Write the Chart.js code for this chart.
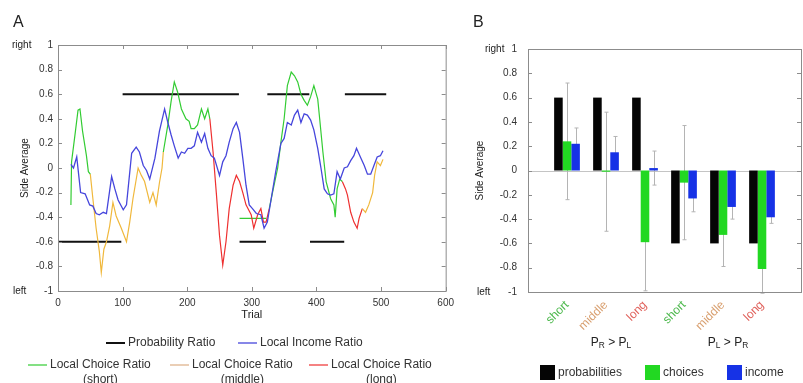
<!DOCTYPE html>
<html>
<head>
<meta charset="utf-8">
<script src="https://cdn.jsdelivr.net/npm/chart.js@4"></script>
<style>
  body { margin: 0; background: #fff; width: 803px; height: 383px; overflow: hidden; position: relative; }
  #wrapA { position: absolute; left: 0; top: 0; width: 460px; height: 383px; }
  #wrapB { position: absolute; left: 460px; top: 0; width: 343px; height: 383px; }
</style>
</head>
<body>
<div id="wrapA"><canvas id="chartA"></canvas></div>
<div id="wrapB"><canvas id="chartB"></canvas></div>
<script>
// --- panel A : trial-by-trial ratios ---
const probStart = [0, 100, 281, 324, 390, 444];
const probEnd   = [98, 280, 322, 389, 443, 508];
const probLevel = [-0.6, 0.6, -0.6, 0.6, -0.6, 0.6];

const incomeTrial = [20, 24, 29, 35, 42, 49, 54, 59, 64, 70, 75, 83, 88, 93, 101, 106, 114, 121, 126, 132,
  137, 142, 150, 157, 165, 170, 175, 180, 186, 191, 196, 201, 206, 211, 216, 222, 227, 232, 237, 242,
  250, 255, 260, 265, 271, 276, 281, 286, 291, 296, 301, 307, 314, 319, 324, 330, 337, 345, 350, 355,
  361, 366, 371, 376, 381, 386, 391, 396, 402, 407, 412, 417, 422, 427, 432, 437, 443, 448, 453, 458,
  462, 468, 474, 479, 484, 489, 494, 499, 503];
const incomeRatio = [0.03, 0.0, 0.09, -0.2, -0.21, -0.3, -0.31, -0.37, -0.38, -0.36, -0.37, -0.07, -0.17, -0.26, -0.34, -0.3, 0.12, 0.17, 0.13, 0.02,
  -0.02, -0.09, 0.08, 0.3, 0.48, 0.37, 0.27, 0.18, 0.08, 0.13, 0.12, 0.16, 0.16, 0.18, 0.29, 0.21, 0.28, 0.16, 0.1, 0.08,
  -0.06, 0.05, 0.1, 0.21, 0.32, 0.37, 0.29, 0.08, -0.14, -0.3, -0.33, -0.37, -0.38, -0.49, -0.44, -0.25, -0.03, 0.2, 0.24, 0.37,
  0.35, 0.43, 0.47, 0.37, 0.44, 0.43, 0.39, 0.31, 0.16, 0.0, -0.17, -0.21, -0.22, -0.21, -0.03, -0.09, 0.0, 0.01, 0.06, 0.1,
  0.16, 0.09, 0.02, -0.05, -0.05, 0.02, 0.09, 0.1, 0.14];

const choiceTrial = [20, 21, 27, 31, 34, 38, 44, 47,
  50, 54, 59, 64, 67, 71, 75, 80, 85, 90, 98, 106, 111, 116, 124, 129, 134, 142, 147, 152, 157, 161,
  163, 170, 175, 180, 185, 191, 198, 203, 206, 211, 216, 222, 227, 232,
  235, 240, 245, 250, 255, 260, 265, 271, 276, 281, 286, 291, 299, 303, 309, 314, 318, 322,
  327, 332, 340, 345, 350, 355, 361, 366, 371, 376, 381, 386, 391, 396, 402, 405, 410, 415, 422, 427, 429, 432, 436,
  440, 445, 448, 453, 458, 463, 466,
  471, 476, 481, 487, 490, 494, 499, 503];
const choiceRatio = [-0.3, 0.05, 0.3, 0.47, 0.48, 0.3, 0.1, -0.03,
  -0.05, -0.25, -0.49, -0.68, -0.85, -0.66, -0.6, -0.47, -0.28, -0.39, -0.49, -0.6, -0.44, -0.25, 0.0, -0.06, -0.11, -0.28, -0.2, -0.3, -0.12, 0.0,
  0.13, 0.35, 0.54, 0.7, 0.62, 0.48, 0.4, 0.38, 0.32, 0.32, 0.35, 0.48, 0.4, 0.48,
  0.4, 0.13, -0.2, -0.55, -0.79, -0.6, -0.33, -0.14, -0.06, -0.11, -0.2, -0.3, -0.38, -0.49, -0.38, -0.33, -0.44, -0.44,
  -0.33, -0.2, 0.0, 0.21, 0.4, 0.67, 0.78, 0.75, 0.7, 0.6, 0.55, 0.51, 0.58, 0.67, 0.56, 0.4, 0.13, -0.11, -0.25, -0.3, -0.4, -0.17, -0.09,
  -0.11, -0.17, -0.22, -0.36, -0.44, -0.49, -0.41,
  -0.33, -0.36, -0.3, -0.2, -0.06, 0.05, 0.02, 0.07];
// block type in force from each switch trial onwards
const blockSwitch = [20, 49, 162, 234, 325, 438, 469];
const blockKind   = ['short', 'middle', 'short', 'long', 'short', 'long', 'middle'];

const flatTrial = [281, 322];
const flatRatio = [-0.41, -0.41];

// --- panel B : block averages ---
const barGroups  = ['short', 'middle', 'long', 'short', 'middle', 'long'];
const probBars   = [0.6, 0.6, 0.6, -0.6, -0.6, -0.6];
const choiceBars = [0.24, -0.01, -0.59, -0.1, -0.53, -0.81];
const choiceErr  = [0.48, 0.49, 0.4, 0.47, 0.26, 0.2];
const incomeBars = [0.22, 0.15, 0.02, -0.23, -0.3, -0.385];
const incomeErr  = [0.13, 0.13, 0.14, 0.11, 0.1, 0.05];

const FONT = '"Liberation Sans", Arial, sans-serif';
Chart.defaults.font.family = FONT;

const kindColor = { short: '#33cc33', middle: '#f0b83c', long: '#ee3030' };
const labelColor = { short: '#4cb84c', middle: '#d9a070', long: '#e0605a' };

function kindOf(t) {
  let k = blockKind[0];
  blockSwitch.forEach((s, j) => { if (t >= s) k = blockKind[j]; });
  return k;
}
const kinds = choiceTrial.map(kindOf);

function choiceSeries(kind) {
  return choiceTrial.map((t, i) => ({
    x: t,
    y: (kinds[i] === kind || (i > 0 && kinds[i - 1] === kind)) ? choiceRatio[i] : null
  }));
}

const probPoints = [];
probStart.forEach((s, i) => {
  probPoints.push({ x: s, y: probLevel[i] }, { x: probEnd[i], y: probLevel[i] }, { x: probEnd[i], y: null });
});

const fmtTick = (v) => String(Math.round(v * 10) / 10);

function line(ctx, x1, y1, x2, y2) {
  ctx.beginPath(); ctx.moveTo(x1, y1); ctx.lineTo(x2, y2); ctx.stroke();
}

function subText(ctx, parts, cx, y, size) {
  const w = parts.reduce((acc, p) => {
    ctx.font = (p[1] ? size * 0.7 : size) + 'px ' + FONT;
    return acc + ctx.measureText(p[0]).width;
  }, 0);
  let x = cx - w / 2;
  ctx.textAlign = 'left';
  parts.forEach(p => {
    ctx.font = (p[1] ? size * 0.7 : size) + 'px ' + FONT;
    ctx.fillText(p[0], x, p[1] ? y + 3 : y);
    x += ctx.measureText(p[0]).width;
  });
}

// matlab style frame, labels, legends, error bars
const framePlugin = {
  id: 'frame',
  beforeDatasetsDraw(chart, args, o) {
    const { ctx, chartArea: a, scales: { x, y } } = chart;
    ctx.save();
    if (o.zeroLine) {
      ctx.strokeStyle = '#c4c4c4'; ctx.lineWidth = 1;
      const py = Math.round(y.getPixelForValue(0)) + 0.5;
      line(ctx, a.left, py, a.right, py);
    }
    if (o.errors) {
      ctx.strokeStyle = '#b4b4b4'; ctx.lineWidth = 1;
      o.errors.forEach(([di, vals, errs]) => {
        const meta = chart.getDatasetMeta(di);
        vals.forEach((v, j) => {
          const el = meta.data[j + 1];
          const px = Math.round(el.x) + 0.5;
          const top = y.getPixelForValue(v + errs[j]);
          const bot = y.getPixelForValue(v - errs[j]);
          line(ctx, px, top, px, bot);
          line(ctx, px - 2, top, px + 2, top);
          line(ctx, px - 2, bot, px + 2, bot);
        });
      });
    }
    ctx.restore();
  },
  afterDraw(chart, args, o) {
    const { ctx, chartArea: a, scales: { x, y } } = chart;
    ctx.save();
    ctx.strokeStyle = '#8c8c8c'; ctx.lineWidth = 1;
    ctx.strokeRect(a.left + 0.5, a.top + 0.5, a.width, a.height);
    y.ticks.forEach(t => {
      const py = Math.round(y.getPixelForValue(t.value)) + 0.5;
      line(ctx, a.left, py, a.left + 4, py);
      line(ctx, a.right - 4, py, a.right, py);
    });
    if (o.xTicks) {
      x.ticks.forEach(t => {
        const px = Math.round(x.getPixelForValue(t.value)) + 0.5;
        line(ctx, px, a.top, px, a.top + 4);
        line(ctx, px, a.bottom - 4, px, a.bottom);
      });
    }
    ctx.fillStyle = '#222';
    ctx.textBaseline = 'middle';
    ctx.textAlign = 'left';
    ctx.font = '16px ' + FONT;
    ctx.fillText(o.letter, o.letterX, 23);
    ctx.font = '10px ' + FONT;
    ctx.fillText('right', o.rightX, y.getPixelForValue(1));
    ctx.fillText('left', o.leftX, y.getPixelForValue(-1));
    ctx.save();
    ctx.translate(o.titleX, (a.top + a.bottom) / 2);
    ctx.rotate(-Math.PI / 2);
    ctx.textAlign = 'center';
    ctx.fillText('Side Average', 0, 0);
    ctx.restore();

    if (o.xTitle) {
      ctx.textAlign = 'center';
      ctx.font = '11px ' + FONT;
      ctx.fillText(o.xTitle, (a.left + a.right) / 2, 315);
    }

    ctx.fillStyle = '#333';
    if (o.lineLegend) {
      ctx.font = '12px ' + FONT;
      o.lineLegend.forEach(item => {
        ctx.strokeStyle = item.color; ctx.lineWidth = item.width;
        line(ctx, item.x, item.y, item.x + 19, item.y);
        ctx.textAlign = 'left';
        ctx.fillText(item.text, item.x + 22, item.y);
        if (item.sub) {
          const w = ctx.measureText(item.text).width;
          ctx.textAlign = 'center';
          ctx.fillText(item.sub, item.x + 22 + w / 2, item.y + 15);
        }
      });
    }
    if (o.groups) {
      ctx.fillStyle = '#222';
      ctx.textBaseline = 'middle';
      o.groups.forEach(g => {
        const cx = (x.getPixelForValue(g.from) + x.getPixelForValue(g.to)) / 2 + 5;
        subText(ctx, g.parts, cx, 343, 12);
      });
    }
    if (o.boxLegend) {
      ctx.font = '12px ' + FONT;
      ctx.textAlign = 'left';
      o.boxLegend.forEach(item => {
        ctx.fillStyle = item.color;
        ctx.fillRect(item.x, 365, 15, 15);
        ctx.fillStyle = '#333';
        ctx.fillText(item.text, item.x + 18, 373);
      });
    }
    ctx.restore();
  }
};

const tickStyle = { color: '#333', font: { size: 10 } };

new Chart(document.getElementById('chartA'), {
  type: 'line',
  data: {
    datasets: [
      { label: 'Local Income Ratio', data: incomeTrial.map((t, i) => ({ x: t, y: incomeRatio[i] })), borderColor: '#4646dc', borderWidth: 1.3 },
      { label: 'Local Choice Ratio (short)', data: choiceSeries('short'), borderColor: kindColor.short },
      { label: 'Local Choice Ratio (middle)', data: choiceSeries('middle'), borderColor: kindColor.middle },
      { label: 'Local Choice Ratio (long)', data: choiceSeries('long'), borderColor: kindColor.long },
      { label: 'flat', data: flatTrial.map((t, i) => ({ x: t, y: flatRatio[i] })), borderColor: kindColor.short },
      { label: 'Probability Ratio', data: probPoints, borderColor: '#111', borderWidth: 2 }
    ]
  },
  options: {
    responsive: true,
    maintainAspectRatio: false,
    animation: false,
    layout: { padding: { top: 45, right: 13, left: 0, bottom: 0 } },
    elements: { point: { radius: 0 }, line: { tension: 0, borderWidth: 1.2 } },
    plugins: {
      legend: { display: false },
      tooltip: { enabled: false },
      frame: {
        letter: 'A', letterX: 13, rightX: 12, leftX: 13, titleX: 25, xTicks: true, xTitle: 'Trial',
        lineLegend: [
          { x: 106, y: 343, color: '#111', width: 2, text: 'Probability Ratio' },
          { x: 238, y: 343, color: '#4646dc', width: 1.3, text: 'Local Income Ratio' },
          { x: 28, y: 365, color: kindColor.short, width: 1.2, text: 'Local Choice Ratio', sub: '(short)' },
          { x: 170, y: 365, color: '#dcae84', width: 1.2, text: 'Local Choice Ratio', sub: '(middle)' },
          { x: 309, y: 365, color: kindColor.long, width: 1.2, text: 'Local Choice Ratio', sub: '(long)' }
        ]
      }
    },
    scales: {
      x: {
        type: 'linear', min: 0, max: 600,
        ticks: { ...tickStyle, stepSize: 100, padding: 6 },
        grid: { display: false, drawTicks: false }, border: { display: false },
        afterFit: (s) => { s.height = 92; }
      },
      y: {
        type: 'linear', min: -1, max: 1,
        ticks: { ...tickStyle, stepSize: 0.2, padding: 5, callback: fmtTick },
        grid: { display: false, drawTicks: false }, border: { display: false },
        afterFit: (s) => { s.width = 58; }
      }
    }
  },
  plugins: [framePlugin]
});

const pad = (arr) => [null, ...arr, null];
const xLabels = ['', ...barGroups, ''];

new Chart(document.getElementById('chartB'), {
  type: 'bar',
  data: {
    labels: xLabels,
    datasets: [
      { label: 'probabilities', data: pad(probBars), backgroundColor: '#050505' },
      { label: 'choices', data: pad(choiceBars), backgroundColor: '#22d822' },
      { label: 'income', data: pad(incomeBars), backgroundColor: '#1632e6' }
    ]
  },
  options: {
    responsive: true,
    maintainAspectRatio: false,
    animation: false,
    layout: { padding: { top: 49, right: 2, left: 0, bottom: 0 } },
    datasets: { bar: { barPercentage: 1, categoryPercentage: 0.66, borderWidth: 0 } },
    plugins: {
      legend: { display: false },
      tooltip: { enabled: false },
      frame: {
        letter: 'B', letterX: 13, rightX: 25, leftX: 17, titleX: 20,
        zeroLine: true,
        errors: [[1, choiceBars, choiceErr], [2, incomeBars, incomeErr]],
        groups: [
          { from: 1, to: 3, parts: [['P', false], ['R', true], [' > P', false], ['L', true]] },
          { from: 4, to: 6, parts: [['P', false], ['L', true], [' > P', false], ['R', true]] }
        ],
        boxLegend: [
          { x: 80, color: '#050505', text: 'probabilities' },
          { x: 185, color: '#22d822', text: 'choices' },
          { x: 267, color: '#1632e6', text: 'income' }
        ]
      }
    },
    scales: {
      x: {
        offset: false,
        ticks: {
          font: { size: 12 }, padding: 6, minRotation: 45, maxRotation: 45, autoSkip: false,
          color: (c) => labelColor[xLabels[c.index]] || '#333'
        },
        grid: { display: false, drawTicks: false }, border: { display: false },
        afterFit: (s) => { s.height = 91; s.paddingLeft = 0; s.paddingRight = 0; }
      },
      y: {
        min: -1, max: 1,
        ticks: { ...tickStyle, stepSize: 0.2, padding: 11, callback: fmtTick },
        grid: { display: false, drawTicks: false }, border: { display: false },
        afterFit: (s) => { s.width = 68; }
      }
    }
  },
  plugins: [framePlugin]
});
</script>
</body>
</html>
